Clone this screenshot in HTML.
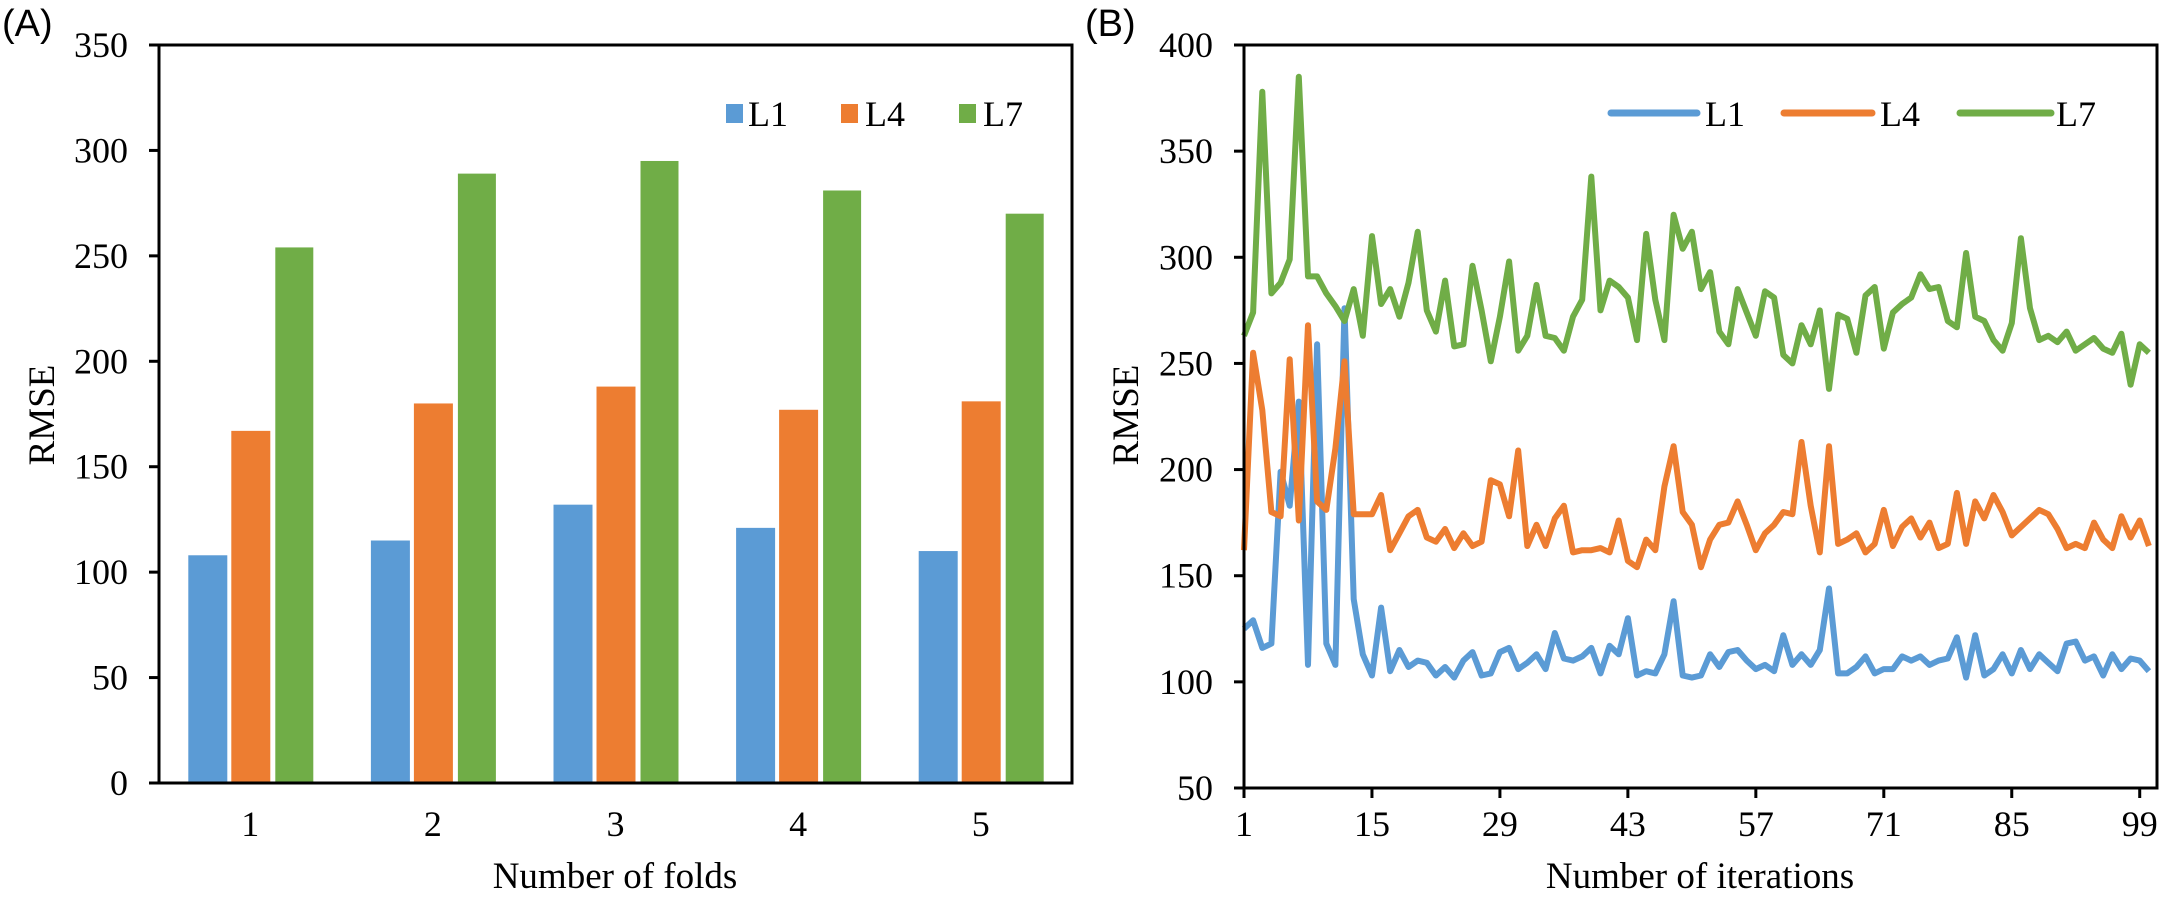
<!DOCTYPE html>
<html><head><meta charset="utf-8"><style>
html,body{margin:0;padding:0;background:#fff;}
svg{display:block;}
.t{font-family:"Liberation Serif",serif;font-size:36px;fill:#000;}
.s{font-family:"Liberation Sans",sans-serif;font-size:38px;fill:#000;}
</style></head><body>
<svg id="c" width="2174" height="903" viewBox="0 0 2174 903" xmlns="http://www.w3.org/2000/svg">
<rect width="2174" height="903" fill="#fff"/>
<text class="s" x="2" y="36">(A)</text>
<text class="s" x="1085" y="36">(B)</text>
<g id="A"></g>
<g id="B"></g>
<text class="t" x="615" y="888" text-anchor="middle" style="font-size:37px">Number of folds</text>
<text class="t" x="1700" y="888" text-anchor="middle" style="font-size:37px">Number of iterations</text>
<text class="t" transform="translate(54,415) rotate(-90)" text-anchor="middle" style="font-size:37px">RMSE</text>
<text class="t" transform="translate(1138,415) rotate(-90)" text-anchor="middle" style="font-size:37px">RMSE</text>
</svg>
<script>
var NS="http://www.w3.org/2000/svg";
function el(p,n,a,txt){var e=document.createElementNS(NS,n);for(var k in a)e.setAttribute(k,a[k]);if(txt!==undefined)e.textContent=txt;p.appendChild(e);return e;}
var C=["#5B9BD5","#ED7D31","#70AD47"];
var A=document.getElementById("A");
var ax0=159,ax1=1072,ay0=783,ay1=45;
function yA(v){return ay0-(ay0-ay1)*v/350;}
var vals=[[108,115,132,121,110],[167,180,188,177,181],[254,289,295,281,270]];
var offs=[[-62,-23],[-19,20],[25,63]];
var gw=(ax1-ax0)/5;
for(var g=0;g<5;g++){var cx=ax0+gw*(g+0.5);
 for(var s=0;s<3;s++){var y=yA(vals[s][g]);el(A,"rect",{x:cx+offs[s][0],y:y,width:offs[s][1]-offs[s][0],height:ay0-y,fill:C[s]});}
 el(A,"text",{"class":"t",x:cx,y:836,"text-anchor":"middle"},String(g+1));}
for(var v=0;v<=350;v+=50){var y=yA(v);el(A,"line",{x1:149,x2:ax0,y1:y,y2:y,stroke:"#000","stroke-width":3});
 el(A,"text",{"class":"t",x:128,y:y+12,"text-anchor":"end"},String(v));}
el(A,"rect",{x:ax0,y:ay1,width:ax1-ax0,height:ay0-ay1,fill:"none",stroke:"#000","stroke-width":3});
var lx=[[726,748,"L1"],[841,865,"L4"],[959,983,"L7"]];
for(var s=0;s<3;s++){el(A,"rect",{x:lx[s][0],y:104,width:17,height:19,fill:C[s]});el(A,"text",{"class":"t",x:lx[s][1],y:126},lx[s][2]);}
var B=document.getElementById("B");
var bx0=1244,bx1=2157,by0=788,by1=45,step=9.14;
function yB(v){return by0-(by0-by1)*(v-50)/350;}
function xB(i){return bx0+(i-1)*step;}
var L7=[263,274,378,283,288,299,385,291,291,283,277,270,285,263,310,278,285,272,288,312,275,265,289,258,259,296,275,251,272,298,256,263,287,263,262,256,272,280,338,275,289,286,281,261,311,280,261,320,304,312,285,293,265,259,285,274,263,284,281,254,250,268,259,275,238,273,271,255,282,286,257,274,278,281,292,285,286,270,267,302,272,270,261,256,269,309,276,261,263,260,265,256,259,262,257,255,264,240,259,255];
var L4=[162,255,228,180,178,252,176,268,185,181,210,251,179,179,179,188,162,170,178,181,168,166,172,163,170,164,166,195,193,178,209,164,174,164,177,183,161,162,162,163,161,176,157,154,167,162,192,211,180,174,154,167,174,175,185,174,162,170,174,180,179,213,183,161,211,165,167,170,161,165,181,164,173,177,168,175,163,165,189,165,185,177,188,180,169,173,177,181,179,172,163,165,163,175,167,163,178,168,176,164];
var L1=[125,129,116,118,199,183,232,108,259,118,108,276,139,113,103,135,105,115,107,110,109,103,107,102,110,114,103,104,114,116,106,109,113,106,123,111,110,112,116,104,117,113,130,103,105,104,113,138,103,102,103,113,107,114,115,110,106,108,105,122,108,113,108,115,144,104,104,107,112,104,106,106,112,110,112,108,110,111,121,102,122,103,106,113,104,115,106,113,109,105,118,119,110,112,103,113,106,111,110,105];
var S=[L1,L4,L7];
for(var s=0;s<3;s++){var p=S[s].map(function(v,i){return xB(i+1).toFixed(1)+","+yB(v).toFixed(1);}).join(" ");
 el(B,"polyline",{points:p,fill:"none",stroke:C[s],"stroke-width":6,"stroke-linejoin":"round"});}
for(var v=50;v<=400;v+=50){var y=yB(v);el(B,"line",{x1:1234,x2:bx0,y1:y,y2:y,stroke:"#000","stroke-width":3});
 el(B,"text",{"class":"t",x:1213,y:y+12,"text-anchor":"end"},String(v));}
for(var i=1;i<=99;i+=14){var x=xB(i);el(B,"line",{x1:x,x2:x,y1:by0,y2:by0+10,stroke:"#000","stroke-width":3});
 el(B,"text",{"class":"t",x:x,y:836,"text-anchor":"middle"},String(i));}
el(B,"rect",{x:bx0,y:by1,width:bx1-bx0,height:by0-by1,fill:"none",stroke:"#000","stroke-width":3});
var lb=[[1611,1697,1705,"L1"],[1784,1872,1880,"L4"],[1960,2051,2056,"L7"]];
for(var s=0;s<3;s++){el(B,"line",{x1:lb[s][0],x2:lb[s][1],y1:113,y2:113,stroke:C[s],"stroke-width":7,"stroke-linecap":"round"});
 el(B,"text",{"class":"t",x:lb[s][2],y:126},lb[s][3]);}
</script>
</body></html>
